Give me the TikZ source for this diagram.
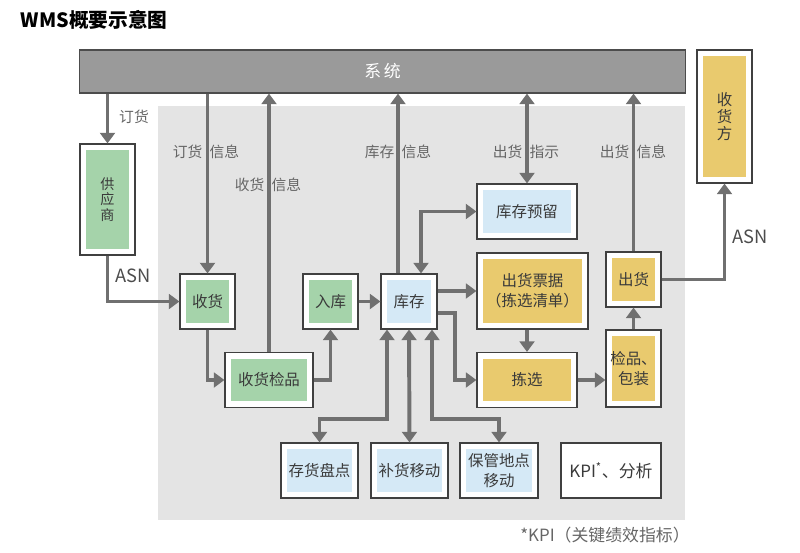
\documentclass[tikz,border=0pt]{standalone}
\usepackage{fontspec}
\setmainfont{Noto Sans CJK SC}
\usetikzlibrary{calc, arrows.meta}

\definecolor{sysgray}{HTML}{9A9A9A}
\definecolor{bggray}{HTML}{E4E4E4}
\definecolor{linegray}{HTML}{707070}
\definecolor{boxgreen}{HTML}{A5D3AA}
\definecolor{boxblue}{HTML}{D5E9F6}
\definecolor{boxyellow}{HTML}{E9CA6E}
\definecolor{txtgray}{HTML}{666666}
\definecolor{txtdark}{HTML}{3A3A3A}

\begin{document}
\begin{tikzpicture}[x=0.025cm, y=-0.025cm,
    arr/.style={draw=linegray, line width=2.8pt, -{Triangle[length=7.5pt,width=10.5pt]}},
    dbl/.style={arr, {Triangle[length=7.5pt,width=10.5pt]}-{Triangle[length=7.5pt,width=10.5pt]}},
    box/.style={draw=black!75, line width=0.8pt, fill=white, inner sep=0pt, text=txtdark,
        font=\fontsize{11}{14}\selectfont, align=center,
        path picture={\fill[#1] ([shift={(4.3pt,4.3pt)}]path picture bounding box.south west)
            rectangle ([shift={(-4.3pt,-4.3pt)}]path picture bounding box.north east);}},
    lbl/.style={text=txtgray, font=\fontsize{10.5}{12}\selectfont},
    asn/.style={text=black!70, font=\fontsize{13}{15}\selectfont}]

    \useasboundingbox (0,0) rectangle (800,552);

    \node[anchor=west, font=\fontsize{14}{16}\selectfont\bfseries] (title) at (16,20) {WMS概要示意图};

    \fill[bggray] (158,106) rectangle (685,520);

    \node[draw=black!70, line width=0.8pt, fill=sysgray, minimum width=15.125cm, minimum height=1.075cm,
        text=white, font=\fontsize{12}{14}\selectfont] (sys) at (382.5,71.5) {系\hspace{0.15em}统};

    \node[box=boxyellow, minimum width=1.375cm, minimum height=3.325cm, font=\fontsize{11}{12}\selectfont] (buyer) at (724.5,116.5) {收\\货\\方};
    \node[box=boxgreen, minimum width=1.375cm, minimum height=2.775cm, font=\fontsize{10}{10.8}\selectfont] (supplier) at (107.5,199.5) {供\\应\\商};

    \node[box=boxgreen, minimum size=1.375cm] (recv) at (207.5,301.5) {收货};
    \node[box=boxgreen, minimum width=2.2cm, minimum height=1.375cm] (insp) at (269,380) {收货检品};
    \node[box=boxgreen, minimum size=1.375cm] (putaway) at (330.5,301.5) {入库};
    \node[box=boxblue, minimum width=1.4cm, minimum height=1.375cm] (stock) at (409,301.5) {库存};
    \node[box=boxblue, minimum width=2.5cm, minimum height=1.375cm] (reserve) at (527,211.5) {库存预留};
    \node[box=boxyellow, minimum width=2.775cm, minimum height=1.9cm] (slip) at (532.5,291) {出货票据\\（拣选清单）};
    \node[box=boxyellow, minimum width=2.5cm, minimum height=1.375cm] (pick) at (527,380) {拣选};
    \node[box=boxyellow, minimum width=1.375cm, minimum height=1.925cm] (pack) at (633.5,368.5) {检品、\\包装};
    \node[box=boxyellow, minimum size=1.375cm] (ship) at (633.5,279.5) {出货};

    \node[box=boxblue, minimum width=1.925cm, minimum height=1.375cm] (count) at (319.5,470.5) {存货盘点};
    \node[box=boxblue, minimum width=1.925cm, minimum height=1.375cm] (replen) at (409.5,470.5) {补货移动};
    \node[box=boxblue, minimum width=1.95cm, minimum height=1.375cm] (relocate) at (499,470.5) {保管地点\\移动};
    \node[box=white, minimum width=2.5cm, minimum height=1.375cm, font=\fontsize{12}{14}\selectfont] (kpi) at (611,470.5) {KPI\textsuperscript{*}、分析};

    \coordinate (stockinfo) at ($(stock.north)+(-11,0)$);
    \coordinate (stockres) at ($(stock.north)+(12,0)$);
    \coordinate (stockpick) at ($(stock.east)+(0,11.5)$);
    \coordinate (stockcount) at ($(stock.south)+(-22,0)$);
    \coordinate (stockmove) at ($(stock.south)+(23,0)$);

    \draw[arr] (sys.south -| supplier.north) -- (supplier.north);
    \draw[arr] (supplier.south) |- (recv.west);
    \draw[arr] (sys.south -| recv.north) -- (recv.north);
    \draw[arr] (recv.south) |- (insp.west);
    \draw[arr] (insp.north) -- (insp.north |- sys.south);
    \draw[arr] (insp.east) -| (putaway.south);
    \draw[arr] (putaway.east) -- (stock.west);
    \draw[arr] (stockinfo) -- (stockinfo |- sys.south);
    \draw[dbl] (sys.south -| reserve.north) -- (reserve.north);
    \draw[dbl] (stockres) |- (reserve.west);
    \draw[arr] (stock.east |- slip.west) -- (slip.west);
    \draw[arr] (stockpick) -- ++(17,0) |- (pick.west);
    \draw[arr] (pick.north |- slip.south) -- (pick.north);
    \draw[arr] (pick.east) -- (pick.east -| pack.west);
    \draw[arr] (pack.north) -- (ship.south);
    \draw[arr] (ship.north) -- (ship.north |- sys.south);
    \draw[arr] (ship.east) -| (buyer.south);

    \draw[dbl] (stockcount) -- ++(0,89) -| (count.north);
    \draw[dbl] (stock.south) -- (replen.north);
    \draw[dbl] (stockmove) -- ++(0,89) -| (relocate.north);

    \node[lbl] (lorder) at (134,117) {订货};
    \node[lbl] (lorderinfo) at (206,152) {订货\enspace 信息};
    \node[lbl] (lrecvinfo) at (268,185) {收货\enspace 信息};
    \node[lbl] (lstockinfo) at (398,152) {库存\enspace 信息};
    \node[lbl] (lshipcmd) at (526,152) {出货\enspace 指示};
    \node[lbl] (lshipinfo) at (633,152) {出货\enspace 信息};
    \node[asn] (lasnin) at (133,276) {ASN};
    \node[asn] (lasnout) at (750,237) {ASN};

    \node[text=txtgray, font=\fontsize{12}{14}\selectfont] (note) at (605,535) {*KPI（关键绩效指标）};

\end{tikzpicture}
\end{document}
